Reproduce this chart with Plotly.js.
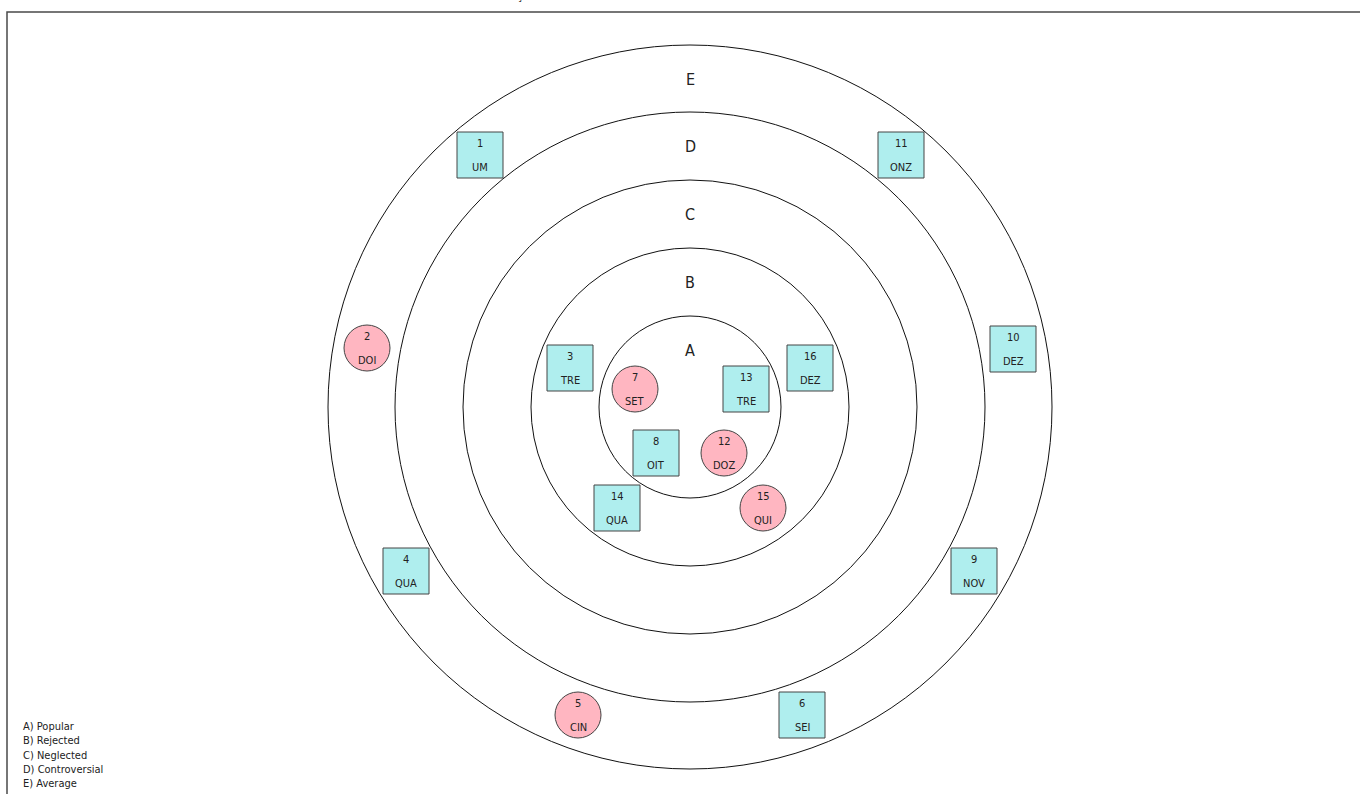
<!DOCTYPE html>
<html>
<head>
<meta charset="utf-8">
<script src="https://cdn.plot.ly/plotly-3.0.1.min.js"></script>
<style>html,body{margin:0;padding:0;background:#fff;}#chart{width:1360px;height:794px;}</style>
</head>
<body>
<div id="chart"></div>
<script>
// Rings (radius in plot units) and their letters
const ringLetters = ["A", "B", "C", "D", "E"];
const ringRadii = [91, 159, 227, 295, 362];
const legendLines = ["A) Popular", "B) Rejected", "C) Neglected", "D) Controversial", "E) Average"];

// Nodes of the sociogram
const nodeIds   = [1, 2, 3, 4, 5, 6, 7, 8, 9, 10, 11, 12, 13, 14, 15, 16];
const nodeNames = ["UM", "DOI", "TRE", "QUA", "CIN", "SEI", "SET", "OIT", "NOV", "DEZ", "ONZ", "DOZ", "TRE", "QUA", "QUI", "DEZ"];
const nodeShape = ["square", "circle", "square", "square", "circle", "square", "circle", "square", "square", "square", "square", "circle", "square", "square", "circle", "square"];
const nodeX = [-210, -323, -120, -284, -112, 112, -55, -34, 284, 323, 211, 34, 56, -73, 73, 120];
const nodeY = [252, 59, 39, -164, -308, -308, 18, -46, -164, 58, 252, -46, 18, -101, -101, 39];

const W = 1360, H = 794, CX = 690, CY = 407;
const FONT = "Tahoma, 'DejaVu Sans Condensed', 'DejaVu Sans', sans-serif";

const shapes = ringRadii.map(r => ({
  type: "circle", xref: "x", yref: "y",
  x0: -r, x1: r, y0: -r, y1: r,
  line: {color: "#111", width: 1}, fillcolor: "rgba(0,0,0,0)", layer: "below"
}));
// frame
shapes.push({type: "rect", xref: "paper", yref: "paper",
  x0: 7 / W, x1: 1.02, y0: -0.02, y1: 1 - 12 / H,
  line: {color: "#4a4a4a", width: 1.5}, fillcolor: "rgba(0,0,0,0)"});

const annotations = [];
ringLetters.forEach((L, i) => {
  annotations.push({x: 0, y: ringRadii[i] - 34, xref: "x", yref: "y", text: L, showarrow: false,
    font: {family: FONT, size: 16, color: "#222"}});
});
nodeIds.forEach((id, i) => {
  annotations.push({x: nodeX[i], y: nodeY[i], xref: "x", yref: "y", text: String(id), showarrow: false,
    yshift: 12, font: {family: FONT, size: 11, color: "#222"}});
  annotations.push({x: nodeX[i], y: nodeY[i], xref: "x", yref: "y", text: nodeNames[i], showarrow: false,
    yshift: -12, font: {family: FONT, size: 11, color: "#222"}});
});
annotations.push({xref: "paper", yref: "paper", x: 21 / W, y: 0, xanchor: "left", yanchor: "bottom", align: "left",
  yshift: 2, text: legendLines.join("<br>"), showarrow: false, font: {family: FONT, size: 11, color: "#222"}});
// title, mostly cut off at the top of the page (as in the reference)
annotations.push({xref: "paper", yref: "paper", x: 464 / W, y: 1, xanchor: "left", yanchor: "bottom",
  yshift: -4, text: "Classificação", showarrow: false, font: {family: FONT, size: 12, color: "#222"}});

const trace = {
  type: "scatter", mode: "markers",
  x: nodeX, y: nodeY,
  marker: {
    symbol: nodeShape,
    size: 46,
    color: nodeShape.map(s => s === "square" ? "#afeeee" : "#ffb6c1"),
    line: {color: "#444", width: 1}
  },
  hoverinfo: "skip"
};

const layout = {
  width: W, height: H, autosize: false,
  margin: {l: 0, r: 0, t: 0, b: 0, pad: 0},
  paper_bgcolor: "#fff", plot_bgcolor: "#fff",
  showlegend: false,
  xaxis: {range: [-CX, W - CX], visible: false, fixedrange: true},
  yaxis: {range: [-(H - CY), CY], visible: false, fixedrange: true},
  shapes: shapes,
  annotations: annotations
};

Plotly.newPlot("chart", [trace], layout, {displayModeBar: false, staticPlot: true});
</script>
</body>
</html>
